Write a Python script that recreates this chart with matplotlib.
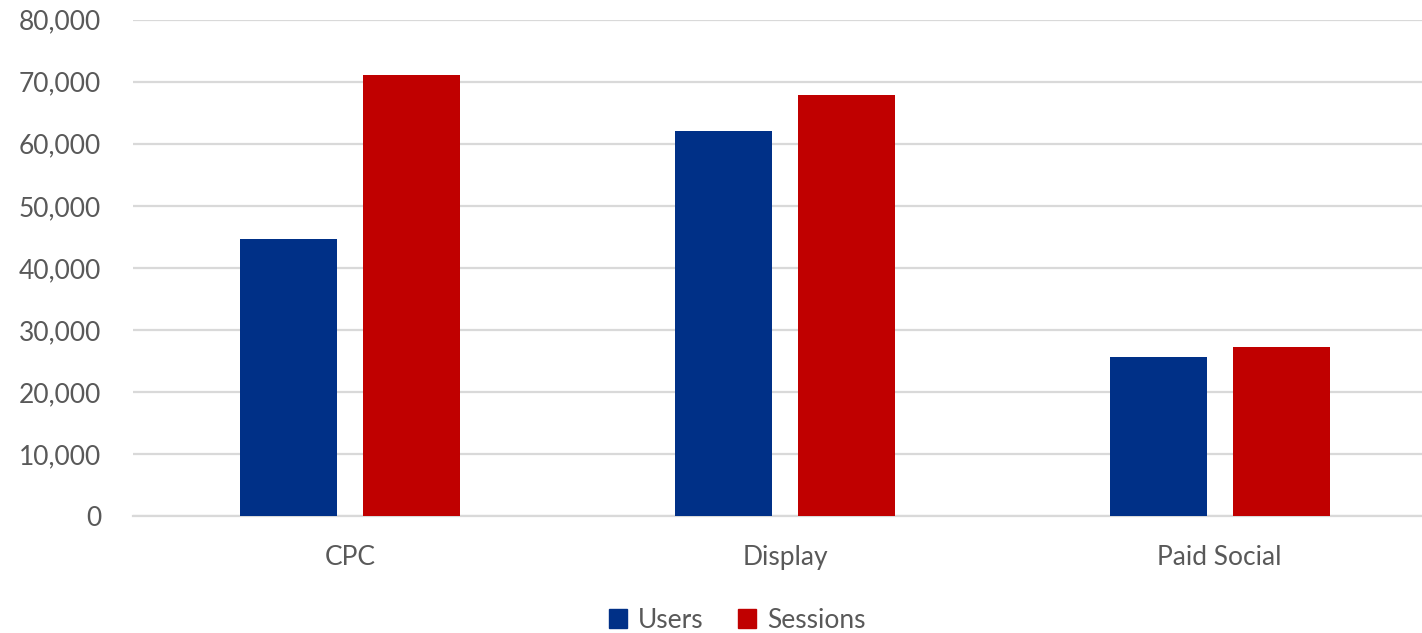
import numpy as np
import matplotlib
matplotlib.use("Agg")
import matplotlib.pyplot as plt
from matplotlib.patches import Patch
from matplotlib.ticker import FuncFormatter

channels = ["CPC", "Display", "Paid Social"]
users = [44600, 62000, 25600]
sessions = [71100, 67900, 27200]
yticks = [0, 10000, 20000, 30000, 40000, 50000, 60000, 70000, 80000]

blue = "#003087"
red = "#c00000"
grey_txt = "#595959"
grid_col = "#d9d9d9"

plt.rcParams["font.family"] = ["Lato", "DejaVu Sans"]

fig = plt.figure(figsize=(14.22, 6.33), dpi=100)
ax = fig.add_axes([133 / 1422, 117 / 633, 1304 / 1422, 496.3 / 633])

x = np.arange(len(channels))
w = 0.223
off = 0.1414
ax.bar(x - off, users, width=w, color=blue, zorder=3)
ax.bar(x + off, sessions, width=w, color=red, zorder=3)

ax.set_xlim(-0.5, len(channels) - 0.5)
ax.set_ylim(0, 80000)
ax.set_yticks(yticks)
ax.yaxis.set_major_formatter(FuncFormatter(lambda v, p: f"{int(v):,}"))
ax.set_xticks(x)
ax.set_xticklabels(channels)

ax.grid(axis="y", color=grid_col, linewidth=1.6, zorder=0)
for s in ["top", "right", "left"]:
    ax.spines[s].set_visible(False)
ax.spines["bottom"].set_color(grid_col)
ax.spines["bottom"].set_linewidth(1.6)
ax.tick_params(axis="both", length=0, labelsize=19, colors=grey_txt)
ax.tick_params(axis="y", pad=23)
ax.tick_params(axis="x", pad=21)

handles = [Patch(color=blue, label="Users"), Patch(color=red, label="Sessions")]
fig.legend(handles=handles, loc="center", bbox_to_anchor=(737 / 1422, 1 - 620 / 633),
           ncol=2, frameon=False, fontsize=19, labelcolor=grey_txt,
           handlelength=0.7, handleheight=0.7, handletextpad=0.4, columnspacing=1.3)

fig.savefig("out.png", dpi=100)
